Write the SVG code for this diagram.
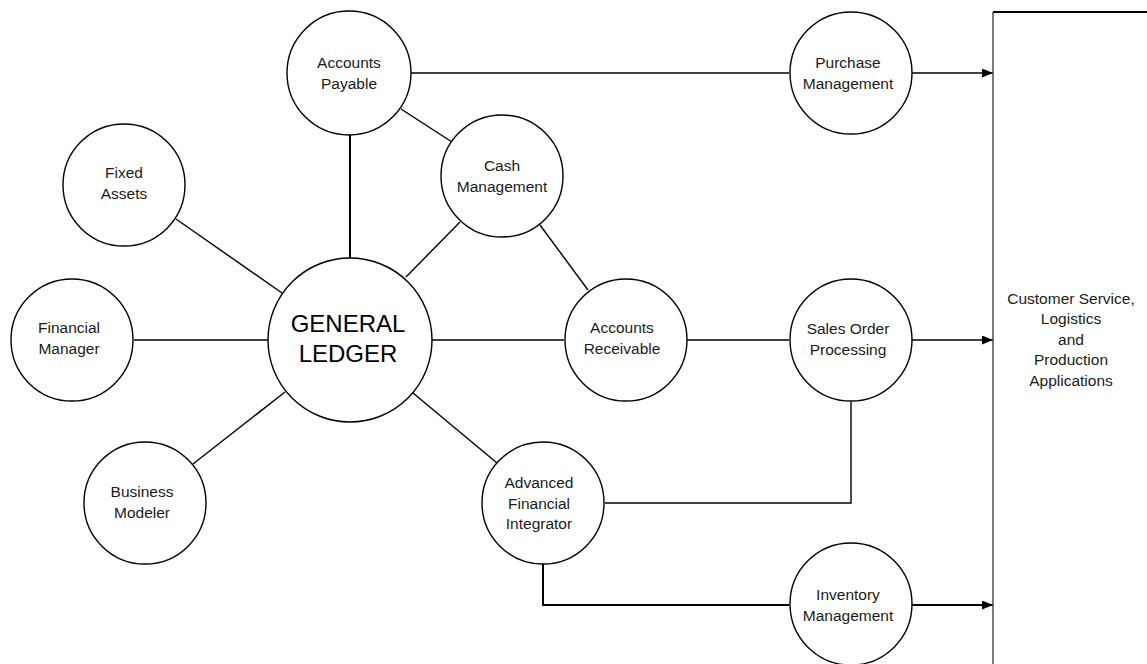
<svg xmlns="http://www.w3.org/2000/svg" width="1147" height="664" viewBox="0 0 1147 664">
<style>
.n{fill:#fff;stroke:#000;stroke-width:1.4}
.t{font-family:"Liberation Sans",Arial,sans-serif;font-size:15.5px;fill:#1a1a1a;text-anchor:middle}
.big{font-size:24px;fill:#000}
.c{fill:none;stroke:#000;stroke-width:1.4}
.k{stroke-width:2}
</style>
<defs>
<marker id="ah" markerWidth="12" markerHeight="10" refX="11" refY="4.5" orient="auto" markerUnits="userSpaceOnUse">
<path d="M0,0 L11,4.5 L0,9 Z" fill="#000"/>
</marker>
</defs>
<rect width="1147" height="664" fill="#fff"/>
<g id="connectors">
<line class="c" x1="411" y1="73" x2="789" y2="73"/>
<line class="c k" x1="350" y1="135" x2="350" y2="258"/>
<line class="c" x1="401" y1="109" x2="452" y2="142"/>
<line class="c" x1="460" y1="222" x2="406" y2="277"/>
<line class="c" x1="540" y1="225" x2="588" y2="290"/>
<line class="c" x1="176" y1="219" x2="282" y2="293"/>
<line class="c" x1="134" y1="340" x2="268" y2="340"/>
<line class="c" x1="193" y1="464" x2="285" y2="392"/>
<line class="c" x1="432" y1="340" x2="564" y2="340"/>
<line class="c" x1="413" y1="393" x2="497" y2="463"/>
<line class="c" x1="687" y1="340" x2="789" y2="340"/>
<polyline class="c" points="851,402 851,503 605,503"/>
<polyline class="c k" points="543,564 543,605 789,605"/>
<line class="c" x1="912" y1="73" x2="993" y2="73" marker-end="url(#ah)"/>
<line class="c" x1="912" y1="340" x2="993" y2="340" marker-end="url(#ah)"/>
<line class="c k" x1="912" y1="605" x2="993" y2="605" marker-end="url(#ah)"/>
</g>
<g id="box">
<line x1="993" y1="12" x2="993" y2="664" stroke="#444" stroke-width="1.4"/>
<line x1="993" y1="12" x2="1147" y2="12" stroke="#000" stroke-width="2"/>
<text class="t" x="1071" y="303.5">Customer Service,</text>
<text class="t" x="1071" y="324">Logistics</text>
<text class="t" x="1071" y="344.5">and</text>
<text class="t" x="1071" y="365">Production</text>
<text class="t" x="1071" y="385.5">Applications</text>
</g>
<g id="accounts-payable"><circle class="n" cx="349" cy="73" r="62"/><text class="t" x="349" y="68">Accounts</text><text class="t" x="349" y="89">Payable</text></g>
<g id="cash-management"><circle class="n" cx="502" cy="176" r="61"/><text class="t" x="502" y="171">Cash</text><text class="t" x="502" y="192">Management</text></g>
<g id="fixed-assets"><circle class="n" cx="124" cy="185" r="61"/><text class="t" x="124" y="178">Fixed</text><text class="t" x="124" y="199">Assets</text></g>
<g id="financial-manager"><circle class="n" cx="72" cy="340" r="61"/><text class="t" x="69" y="333">Financial</text><text class="t" x="69" y="354">Manager</text></g>
<g id="general-ledger"><circle class="n" cx="350" cy="340" r="82"/><text class="t big" x="348" y="332">GENERAL</text><text class="t big" x="348" y="362">LEDGER</text></g>
<g id="business-modeler"><circle class="n" cx="145" cy="503" r="61"/><text class="t" x="142" y="497">Business</text><text class="t" x="142" y="518">Modeler</text></g>
<g id="accounts-receivable"><circle class="n" cx="626" cy="340" r="61"/><text class="t" x="622" y="333">Accounts</text><text class="t" x="622" y="354">Receivable</text></g>
<g id="advanced-financial-integrator"><circle class="n" cx="543" cy="503" r="61"/><text class="t" x="539" y="488">Advanced</text><text class="t" x="539" y="509">Financial</text><text class="t" x="539" y="529">Integrator</text></g>
<g id="purchase-management"><circle class="n" cx="851" cy="73" r="61"/><text class="t" x="848" y="68">Purchase</text><text class="t" x="848" y="89">Management</text></g>
<g id="sales-order-processing"><circle class="n" cx="851" cy="340" r="61"/><text class="t" x="848" y="334">Sales Order</text><text class="t" x="848" y="355">Processing</text></g>
<g id="inventory-management"><circle class="n" cx="851" cy="604" r="61"/><text class="t" x="848" y="600">Inventory</text><text class="t" x="848" y="621">Management</text></g>
</svg>
